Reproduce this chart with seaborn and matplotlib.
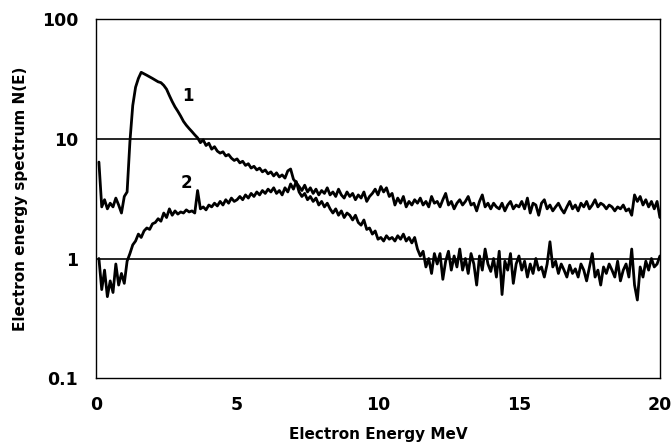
import numpy as np
import pandas as pd
import seaborn as sns
import matplotlib.pyplot as plt

# electron energy grid, MeV
energy = np.round(np.arange(0.1, 20.05, 0.1), 1)

# spectrum 1 (0.1 MeV steps)
spec1 = [
    6.4, 2.7, 3.1, 2.6, 2.9, 2.7, 3.2, 2.8, 2.4, 3.3,
    3.6, 9.5, 19, 27, 32, 36, 35, 34, 33, 32,
    31, 30, 29.5, 28, 26, 23, 20.5, 18.5, 17, 15.5,
    14, 13, 12.2, 11.5, 10.8, 10.2, 9.3, 9.8, 8.8, 9.2,
    8.2, 8.6, 7.9, 7.6, 7.8, 7.2, 7.4, 6.9, 6.6, 6.8,
    6.3, 6.5, 6.0, 6.2, 5.7, 5.9, 5.5, 5.7, 5.3, 5.5,
    5.1, 5.3, 4.9, 5.2, 4.8, 5.0, 4.7, 5.4, 5.6, 4.6,
    4.3, 4.0, 3.7, 4.1, 3.6, 3.9, 3.5, 3.8, 3.4, 3.7,
    3.5, 3.9, 3.4, 3.6, 3.3, 3.8, 3.4, 3.2, 3.6, 3.3,
    3.5, 3.1, 3.4, 3.2, 3.6, 3.0, 3.3, 3.5, 3.8, 3.4,
    4.0, 3.6, 3.9, 3.3, 3.5, 2.8, 3.2, 2.9, 3.3, 2.7,
    3.0, 2.8, 3.1, 2.9, 3.2, 2.8, 3.0, 2.7, 3.3, 2.9,
    3.0, 2.7, 3.1, 3.5, 2.8, 3.0, 2.6, 2.9, 3.1, 2.8,
    3.0, 3.3, 2.8, 2.9, 2.5, 3.0, 3.4, 2.7, 2.9, 2.6,
    2.9, 2.7, 2.6, 2.9, 2.5, 2.8, 3.0, 2.6, 2.8, 2.7,
    3.0, 2.6, 3.2, 2.4, 2.9, 2.8, 2.3, 2.9, 3.1, 2.6,
    2.8, 2.5, 2.7, 2.9, 2.6, 2.4, 2.7, 3.0, 2.6, 2.8,
    2.5, 2.9, 2.7, 3.0, 2.6, 2.8, 3.1, 2.7, 2.9, 2.8,
    2.6, 2.8, 2.7, 2.5, 2.7, 2.6, 2.8, 2.5, 2.6, 2.3,
    3.4, 3.0, 3.3, 2.8, 3.1, 2.7, 3.0, 2.6, 3.0, 2.2,
]

# spectrum 2
spec2 = [
    1.0, 0.55, 0.8, 0.48, 0.65, 0.52, 0.9, 0.6, 0.75, 0.62,
    0.95, 1.1, 1.3, 1.4, 1.6, 1.5, 1.7, 1.8, 1.75, 1.95,
    2.0, 2.15, 2.05, 2.4, 2.2, 2.6, 2.3, 2.5, 2.35, 2.45,
    2.4, 2.55, 2.45, 2.5, 2.4, 3.7, 2.6, 2.7, 2.55, 2.8,
    2.7, 2.9, 2.75, 3.0, 2.8, 3.1, 2.9, 3.2, 3.0, 3.1,
    3.3, 3.1, 3.4, 3.2, 3.5, 3.3, 3.6, 3.4, 3.7, 3.5,
    3.8, 3.6, 3.9, 3.5, 3.7, 3.4, 3.9, 3.6, 4.2, 3.8,
    4.4, 3.6, 3.3, 3.5, 3.1, 3.3, 3.0, 3.2, 2.8, 3.0,
    2.7, 2.9, 2.6, 2.4, 2.6, 2.3, 2.5, 2.2, 2.4, 2.3,
    2.1, 2.3, 2.0, 1.9, 2.1, 1.75, 1.8, 1.6, 1.7, 1.45,
    1.5, 1.4, 1.55, 1.45, 1.5, 1.4, 1.55, 1.45, 1.6, 1.4,
    1.5, 1.35, 1.5, 1.2, 1.05, 1.15, 0.85, 1.0, 0.75, 1.1,
    0.9, 1.1, 0.67, 0.95, 1.15, 0.8, 1.05, 0.85, 1.2, 0.8,
    1.0, 0.75, 1.1, 0.9, 0.6, 1.05, 0.8, 1.2, 0.9, 0.78,
    1.0, 0.7, 1.15, 0.5, 0.95, 0.8, 1.1, 0.62, 0.9, 1.05,
    0.8, 0.95, 0.7, 0.9, 0.75, 1.0, 0.8, 0.85, 0.7, 0.9,
    1.38, 0.85, 0.95, 0.75, 0.9, 0.8, 0.7, 0.88, 0.75, 0.82,
    0.7, 0.9, 0.8, 0.65, 0.85, 1.1, 0.7, 0.8, 0.6, 0.85,
    0.75, 0.9, 0.8, 0.7, 0.95, 0.65, 0.8, 0.9, 0.7, 1.2,
    0.6, 0.45, 0.85, 0.7, 0.95, 0.8, 1.0, 0.85, 0.9, 1.05,
]

df = pd.DataFrame({"E": np.concatenate([energy, energy]),
                   "N": spec1 + spec2,
                   "curve": ["1"] * len(energy) + ["2"] * len(energy)})

sns.set_style("white")
plt.rcParams["font.family"] = ["DejaVu Sans"]
plt.rcParams["text.color"] = "black"
plt.rcParams["axes.labelcolor"] = "black"
plt.rcParams["xtick.color"] = "black"
plt.rcParams["ytick.color"] = "black"

fig = plt.figure(figsize=(6.72, 4.47), dpi=100)
ax = fig.add_axes([0.143, 0.154, 0.839, 0.803])

sns.lineplot(data=df, x="E", y="N", units="curve", estimator=None,
             color="black", linewidth=2, ax=ax, legend=False)

ax.set_yscale("log")
ax.set_ylim(0.1, 100)
ax.set_xlim(0, 20)
ax.set_xticks([0, 5, 10, 15, 20])
ax.set_yticks([0.1, 1, 10, 100])
ax.set_yticklabels(["0.1", "1", "10", "100"])
ax.minorticks_off()
for v in [1, 10]:
    ax.axhline(v, color="black", linewidth=1.2, zorder=0)

for s in ax.spines.values():
    s.set_color("black")
    s.set_linewidth(1)

ax.tick_params(axis="both", direction="out", length=5, width=1,
               labelsize=12.5, pad=8)
for lab in ax.get_xticklabels() + ax.get_yticklabels():
    lab.set_fontweight("bold")

ax.set_xlabel("Electron Energy MeV", fontsize=11, fontweight="bold", labelpad=9)
ax.set_ylabel("Electron energy spectrum N(E)", fontsize=11, fontweight="bold", labelpad=10)

ax.text(3.25, 23, "1", fontsize=12, fontweight="bold", ha="center", va="center")
ax.text(3.2, 4.3, "2", fontsize=12, fontweight="bold", ha="center", va="center")

fig.savefig("out.png", dpi=100)
